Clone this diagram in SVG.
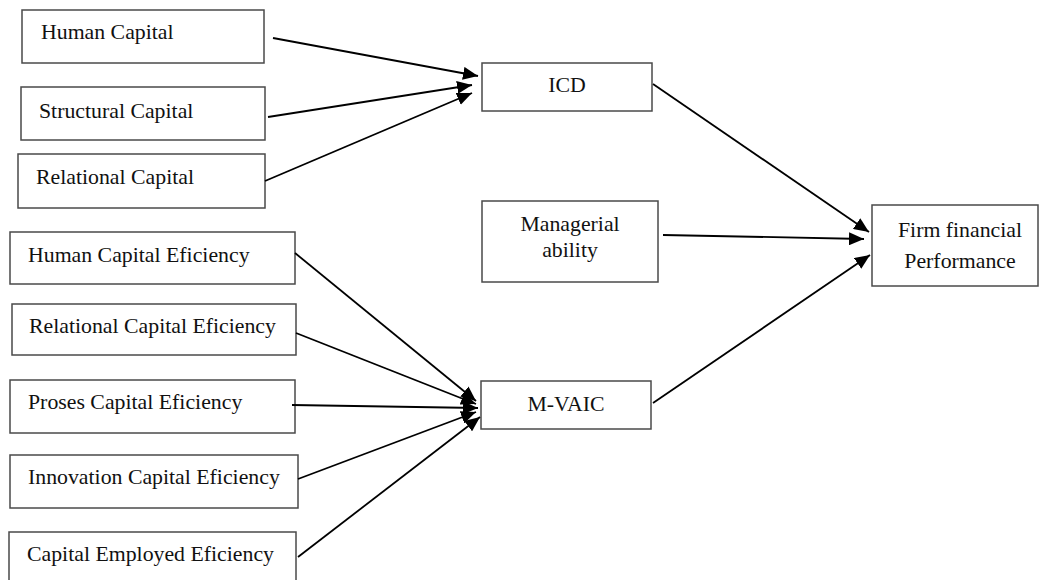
<svg xmlns="http://www.w3.org/2000/svg" width="1040" height="580" viewBox="0 0 1040 580">
  <style>
    .box { fill: #ffffff; stroke: #4a4a4a; stroke-width: 1.5; }
    .lbl { font-family: "Liberation Serif", "Times New Roman", serif; font-size: 21.8px; fill: #111111; }
    .mid { text-anchor: middle; }
    .conn { stroke: #000000; stroke-width: 1.8; fill: none; marker-end: url(#arrow); }
  </style>
  <defs>
    <marker id="arrow" markerUnits="userSpaceOnUse" markerWidth="16" markerHeight="13" refX="15" refY="6.5" orient="auto">
      <path d="M0,0 L15,6.5 L0,13 Z" fill="#000000"/>
    </marker>
  </defs>
  <rect width="1040" height="580" fill="#ffffff"/>

  <g id="node-human-capital">
    <rect class="box" x="22" y="10" width="242" height="53"/>
    <text class="lbl" x="41" y="39">Human Capital</text>
  </g>
  <g id="node-structural-capital">
    <rect class="box" x="21" y="87" width="244" height="53"/>
    <text class="lbl" x="39" y="118">Structural Capital</text>
  </g>
  <g id="node-relational-capital">
    <rect class="box" x="18" y="154" width="247" height="54"/>
    <text class="lbl" x="36" y="184">Relational Capital</text>
  </g>
  <g id="node-hce">
    <rect class="box" x="10" y="232" width="285" height="52"/>
    <text class="lbl" x="28" y="262">Human Capital Eficiency</text>
  </g>
  <g id="node-rce">
    <rect class="box" x="12" y="304" width="284" height="51"/>
    <text class="lbl" x="29" y="333">Relational Capital Eficiency</text>
  </g>
  <g id="node-pce">
    <rect class="box" x="10" y="380" width="285" height="53"/>
    <text class="lbl" x="28" y="409">Proses Capital Eficiency</text>
  </g>
  <g id="node-ice">
    <rect class="box" x="10" y="455" width="288" height="53"/>
    <text class="lbl" x="28" y="484">Innovation Capital Eficiency</text>
  </g>
  <g id="node-cee">
    <rect class="box" x="9" y="532" width="287" height="60"/>
    <text class="lbl" x="27" y="561">Capital Employed Eficiency</text>
  </g>
  <g id="node-icd">
    <rect class="box" x="482" y="63" width="170" height="48"/>
    <text class="lbl mid" x="567" y="92">ICD</text>
  </g>
  <g id="node-managerial">
    <rect class="box" x="482" y="201" width="176" height="81"/>
    <text class="lbl mid" x="570" y="231">Managerial</text>
    <text class="lbl mid" x="570" y="257">ability</text>
  </g>
  <g id="node-mvaic">
    <rect class="box" x="481" y="381" width="170" height="48"/>
    <text class="lbl mid" x="566" y="411">M-VAIC</text>
  </g>
  <g id="node-firm">
    <rect class="box" x="872" y="205" width="166" height="81"/>
    <text class="lbl mid" x="960" y="237">Firm financial</text>
    <text class="lbl mid" x="960" y="268">Performance</text>
  </g>

  <g id="connectors">
    <line class="conn" x1="273" y1="38" x2="478" y2="76"/>
    <line class="conn" x1="268" y1="117" x2="472" y2="85"/>
    <line class="conn" x1="265" y1="181" x2="472" y2="93"/>
    <line class="conn" x1="295" y1="253" x2="476" y2="401"/>
    <line class="conn" x1="296" y1="333" x2="476" y2="404"/>
    <line class="conn" x1="292" y1="405" x2="478" y2="408"/>
    <line class="conn" x1="298" y1="479" x2="476" y2="412"/>
    <line class="conn" x1="298" y1="557" x2="480" y2="417"/>
    <line class="conn" x1="653" y1="84" x2="869" y2="232"/>
    <line class="conn" x1="663" y1="235" x2="864" y2="239"/>
    <line class="conn" x1="653" y1="403" x2="870" y2="255"/>
  </g>
</svg>
